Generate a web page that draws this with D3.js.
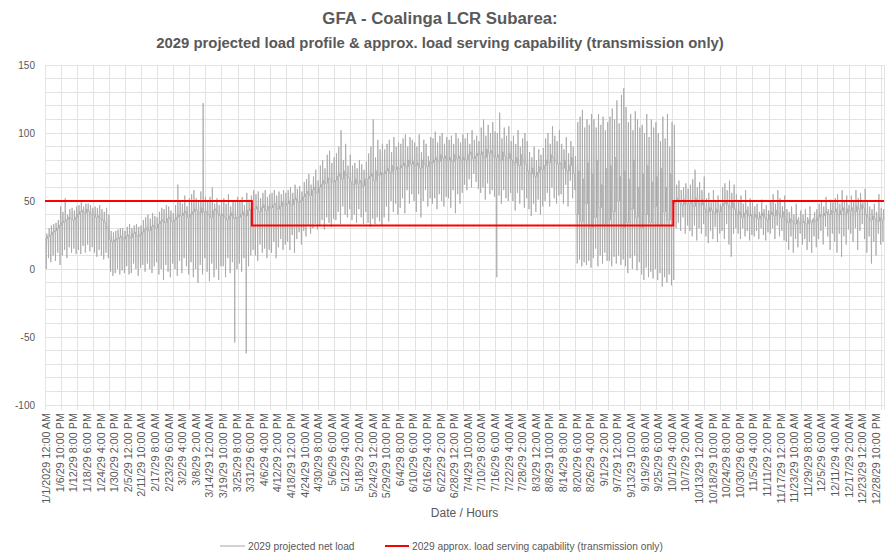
<!DOCTYPE html>
<html><head><meta charset="utf-8">
<script src="https://cdn.jsdelivr.net/npm/d3@7"></script>
<style>body{margin:0;background:#fff}text{font-family:"Liberation Sans",Arial,sans-serif}</style>
</head><body><svg id="chart" width="889" height="555"></svg>
<script>
const titleLines = ["GFA - Coalinga LCR Subarea:", "2029 projected load profile & approx. load serving capability (transmission only)"];
const xTitle = "Date / Hours";
const seriesNames = ["2029 projected net load", "2029 approx. load serving  capability (transmission only)"];
const hoursInYear = 8760;
const labelStepHours = 142;
const gridStepHours = 168;
const xLabels = ["1/1/2029 12:00 AM","1/6/29 10:00 PM","1/12/29 8:00 PM","1/18/29 6:00 PM","1/24/29 4:00 PM","1/30/29 2:00 PM","2/5/29 12:00 PM","2/11/29 10:00 AM","2/17/29 8:00 AM","2/23/29 6:00 AM","3/2/29 4:00 AM","3/8/29 2:00 AM","3/14/29 12:00 AM","3/19/29 10:00 PM","3/25/29 8:00 PM","3/31/29 6:00 PM","4/6/29 4:00 PM","4/12/29 2:00 PM","4/18/29 12:00 PM","4/24/29 10:00 AM","4/30/29 8:00 AM","5/6/29 6:00 AM","5/12/29 4:00 AM","5/18/29 2:00 AM","5/24/29 12:00 AM","5/29/29 10:00 PM","6/4/29 8:00 PM","6/10/29 6:00 PM","6/16/29 4:00 PM","6/22/29 2:00 PM","6/28/29 12:00 PM","7/4/29 10:00 AM","7/10/29 8:00 AM","7/16/29 6:00 AM","7/22/29 4:00 AM","7/28/29 2:00 AM","8/3/29 12:00 AM","8/8/29 10:00 PM","8/14/29 8:00 PM","8/20/29 6:00 PM","8/26/29 4:00 PM","9/1/29 2:00 PM","9/7/29 12:00 PM","9/13/29 10:00 AM","9/19/29 8:00 AM","9/25/29 6:00 AM","10/1/29 4:00 AM","10/7/29 2:00 AM","10/13/29 12:00 AM","10/18/29 10:00 PM","10/24/29 8:00 PM","10/30/29 6:00 PM","11/5/29 4:00 PM","11/11/29 2:00 PM","11/17/29 12:00 PM","11/23/29 10:00 AM","11/29/29 8:00 AM","12/5/29 6:00 AM","12/11/29 4:00 AM","12/17/29 2:00 AM","12/23/29 12:00 AM","12/28/29 10:00 PM"];
const yTicks = [-100, -50, 0, 50, 100, 150];
const yMinorStep = 10;

// daily typical (night) level, midday minimum, evening maximum — read week by week from the picture
const dailyBase = [
22,24,25,27,28,30,32, 34,35,36,38,37,36,38, 40,42,43,41,44,42,40, 40,38,39,37,36,34,30,
22,20,21,22,23,24,22, 24,25,23,26,27,24,25, 27,29,30,28,31,32,30, 33,35,36,34,37,38,35,
36,38,40,39,41,42,38, 40,42,44,43,41,45,42, 42,40,38,43,44,41,39, 40,38,36,39,41,37,38,
38,40,42,39,43,44,45, 44,46,42,45,47,43,46, 45,47,48,44,46,49,47, 48,50,47,51,52,49,50,
53,55,57,54,58,60,56, 60,62,65,63,67,66,64, 65,68,70,66,72,69,67, 64,62,66,63,65,61,66,
66,68,70,65,72,69,71, 70,72,74,71,76,73,75, 74,76,78,75,80,77,79, 76,78,74,80,77,75,79,
78,80,82,79,84,81,83, 80,82,79,84,81,83,80, 82,80,84,86,81,83,85, 84,86,82,88,85,87,83,
82,84,80,86,83,81,85, 80,78,82,76,84,79,77, 72,70,74,68,71,75,73, 76,80,78,84,82,79,77,
78,74,80,72,76,82,70, 40,72,35,66,48,78,30, 70,38,80,45,62,33,74, 36,76,42,82,50,68,30,
72,34,66,44,80,38,60, 30,70,40,76,34,64,46, 68,32,74,42,60,36,70, 48,50,52,49,47,51,48,
48,50,46,52,49,47,51, 44,42,45,43,41,44,42, 46,48,50,47,45,49,44, 40,42,38,41,43,39,40,
38,40,37,39,41,38,36, 40,42,39,43,41,38,42, 36,34,37,35,33,36,34, 34,35,33,36,34,37,35,
38,40,39,41,42,40,43, 42,44,40,43,45,41,44, 43,45,42,46,44,47,45, 40,38,36,39,37,35,38,
36];
const dailyLow = [
0,8,5,10,6,12,3, 10,14,8,16,12,15,11, 14,11,17,12,18,13,16, 12,9,14,10,7,12,8,
-2,-5,-3,0,-4,-1,-3, 2,-4,-3,4,0,-5,1, 3,-2,4,0,-3,2,5, -4,0,-8,3,-2,-6,4,
0,-5,6,-3,8,2,-4, 5,-6,0,-10,3,-4,8, -2,-9,4,-6,0,-8,2, 2,-6,8,-3,5,-54,0,
4,-2,8,-62,2,10,14, 10,6,18,12,15,8,14, 12,20,8,16,22,14,18, 20,14,25,12,22,27,18,
28,24,32,26,30,33,29, 32,36,29,38,34,31,37, 36,42,33,46,40,38,44, 36,40,34,44,38,33,42,
34,31,37,33,38,35,32, 38,46,35,50,42,48,40, 45,52,41,58,48,55,50, 42,55,38,50,58,46,52,
48,52,44,55,50,46,53, 52,45,58,41,55,48,56, 62,58,66,60,70,64,59, 56,60,51,63,55,58,53,
-6,54,48,58,52,50,56, 50,43,56,48,58,45,52, 44,39,48,42,51,40,46, 50,56,46,60,52,48,54,
55,48,62,46,65,52,58, 4,7,2,5,3,6,1, 8,15,2,10,4,12,6, 6,2,9,4,10,3,7,
2,-3,8,0,10,-1,5, -4,-8,1,-6,-2,-7,0, -8,-3,-13,-6,-10,-4,-12, -8,30,34,28,38,26,32,
28,24,32,21,30,26,33, 24,19,28,22,31,20,26, 28,22,33,18,9,26,30, 26,22,30,24,28,21,25,
24,28,22,30,25,21,27, 26,30,22,32,24,28,21, 20,14,24,12,22,16,26, 18,22,14,20,12,24,16,
22,28,18,31,24,14,26, 20,12,26,9,24,18,29, 26,20,30,14,28,33,22, 12,24,4,20,10,26,18,
20];
const dailyHigh = [
26,30,32,33,34,36,46, 42,52,40,44,45,43,46, 47,49,46,48,48,47,45, 46,45,47,44,42,45,40,
28,27,28,29,30,30,28, 31,33,30,32,33,31,32, 36,38,40,37,41,39,38, 42,45,44,47,46,43,41,
47,62,50,48,54,46,52, 55,58,52,50,57,122,53, 50,53,60,48,52,47,51, 52,48,55,46,50,49,53,
50,53,47,56,51,54,58, 55,57,52,56,58,53,55, 56,58,54,57,55,58,56, 58,60,56,62,59,61,57,
64,66,70,62,68,73,65, 76,80,74,84,87,78,82, 85,90,102,80,92,76,84, 76,78,74,80,77,73,79,
85,90,110,82,95,88,92, 88,92,95,86,97,90,93, 92,96,99,90,97,95,93, 90,99,86,95,92,83,97,
96,101,93,98,100,92,97, 95,98,92,100,96,93,99, 96,100,92,102,95,98,94, 104,110,98,106,100,108,101,
100,115,96,104,98,105,94, 98,92,102,90,96,100,94, 86,82,90,80,88,84,89, 96,100,92,105,98,94,102,
92,88,97,85,94,90,83, 108,112,117,104,110,106,114, 110,104,114,106,112,102,108, 112,118,110,124,107,128,133,
119,108,114,102,116,110,104, 106,100,114,97,110,104,108, 100,94,112,96,114,90,108, 106,62,65,58,60,63,59,
62,66,73,60,64,58,68, 52,56,49,58,50,54,48, 60,63,58,65,56,62,55, 50,54,48,58,46,52,49,
46,48,42,51,44,47,43, 50,55,48,58,52,46,54, 44,42,46,40,48,38,43, 40,44,38,46,36,42,44,
48,50,46,53,44,51,49, 52,55,48,58,50,54,47, 54,50,58,52,56,49,59, 50,46,44,48,42,55,45,
44];
const capabilityHours = [0, 2160, 6560, 8760];
const capabilityValues = [50, 32, 50, 50];

const svg = d3.select("#chart");
const x = d3.scaleLinear().domain([0, hoursInYear]).range([45, 884]);
const y = d3.scaleLinear().domain([-100, 150]).range([405, 65]);
const textColor = "#595959";
const gridColor = "#e3e3e3";

// horizontal gridlines
const hVals = d3.range(-100, 150 + 1, yMinorStep);
svg.append("g").selectAll("line").data(hVals).join("line")
  .attr("x1", x(0)).attr("x2", x(hoursInYear))
  .attr("y1", d => y(d)).attr("y2", d => y(d))
  .attr("stroke", gridColor).attr("stroke-width", 1).attr("shape-rendering", "crispEdges");
// vertical gridlines
const vVals = d3.range(0, hoursInYear + 1, gridStepHours).concat([hoursInYear]);
svg.append("g").selectAll("line").data(vVals).join("line")
  .attr("x1", d => x(d)).attr("x2", d => x(d))
  .attr("y1", y(150)).attr("y2", y(-100) + 5)
  .attr("stroke", gridColor).attr("stroke-width", 1).attr("shape-rendering", "crispEdges");

// y tick labels
svg.append("g").selectAll("text").data(yTicks).join("text")
  .attr("x", 35).attr("y", d => y(d)).attr("dy", "0.35em")
  .attr("text-anchor", "end").attr("font-size", 10).attr("fill", textColor)
  .text(d => d);

// x tick labels
svg.append("g").selectAll("text").data(xLabels).join("text")
  .attr("transform", (d, i) => `translate(${x(i * labelStepHours) + 1.5},${y(-100) + 8}) rotate(-90)`)
  .attr("dy", "0.35em").attr("text-anchor", "end")
  .attr("font-size", 10.8).attr("fill", textColor)
  .text(d => d);

// load series
const dayOffsets = [0, 9, 13, 16, 19, 23];
const loadPoints = [];
dailyBase.forEach((b, d) => {
  const vals = [b, b, dailyLow[d], b, dailyHigh[d], b];
  dayOffsets.forEach((o, j) => loadPoints.push([d * 24 + o, vals[j]]));
});
svg.append("path").datum(loadPoints)
  .attr("fill", "none").attr("stroke", "#a6a6a6").attr("stroke-width", 0.8)
  .attr("d", d3.line().x(d => x(d[0])).y(d => y(d[1])));

// capability step line
const capData = capabilityHours.map((h, i) => [h, capabilityValues[i]]);
svg.append("path").datum(capData)
  .attr("fill", "none").attr("stroke", "#ff0000").attr("stroke-width", 2)
  .attr("d", d3.line().curve(d3.curveStepAfter).x(d => x(d[0])).y(d => y(d[1])));

// titles
const titleSizes = [16.8, 14.9];
svg.append("g").selectAll("text").data(titleLines).join("text")
  .attr("x", 440).attr("y", (d, i) => 24 + i * 23.5)
  .attr("text-anchor", "middle").attr("font-size", (d, i) => titleSizes[i]).attr("font-weight", "bold")
  .attr("fill", textColor).text(d => d);
svg.append("text").attr("x", (x(0) + x(hoursInYear)) / 2).attr("y", 517)
  .attr("text-anchor", "middle").attr("font-size", 12).attr("fill", textColor).text(xTitle);

// legend
const legend = svg.append("g");
legend.append("line").attr("x1", 220).attr("x2", 245).attr("y1", 546).attr("y2", 546)
  .attr("stroke", "#a6a6a6").attr("stroke-width", 1);
legend.append("text").attr("x", 248).attr("y", 546).attr("dy", "0.35em")
  .attr("font-size", 10.2).attr("fill", textColor).text(seriesNames[0]);
legend.append("line").attr("x1", 385).attr("x2", 409).attr("y1", 546).attr("y2", 546)
  .attr("stroke", "#ff0000").attr("stroke-width", 2);
legend.append("text").attr("x", 412).attr("y", 546).attr("dy", "0.35em")
  .attr("font-size", 10.2).attr("fill", textColor).text(seriesNames[1]);
</script></body></html>
